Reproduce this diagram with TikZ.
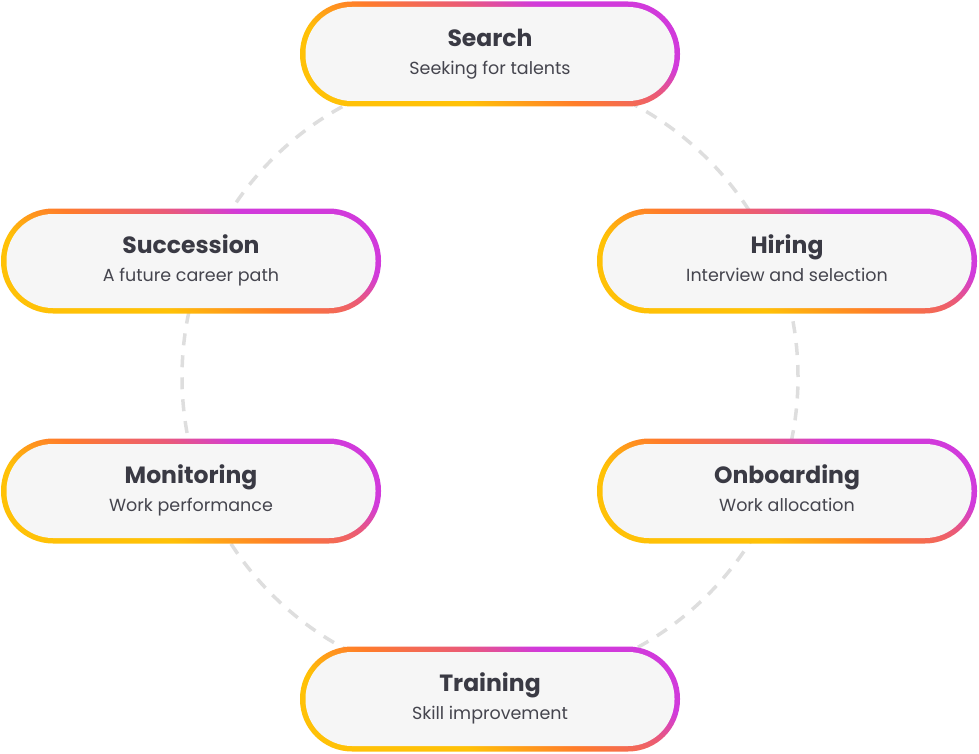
\documentclass[tikz,border=0pt]{standalone}
\usepackage{fontspec}
\setmainfont{Poppins}
\definecolor{gyel}{HTML}{FFC107}
\definecolor{gora}{HTML}{FF7C2A}
\definecolor{gpink}{HTML}{EA5A78}
\definecolor{gmag}{HTML}{D13ADB}
\definecolor{pillbg}{HTML}{F6F6F6}
\definecolor{txt}{HTML}{3A3A44}
\definecolor{subtxt}{HTML}{45454E}
\definecolor{ring}{HTML}{DEDEDE}
\pgfdeclarehorizontalshading{pillgrad}{100bp}{color(0bp)=(gyel); color(36bp)=(gyel); color(48bp)=(gora); color(59bp)=(gpink); color(67bp)=(gmag); color(100bp)=(gmag)}
\tikzset{
  pill/.style={rectangle, rounded corners=52pt, minimum width=380pt, minimum height=105pt,
    shading=pillgrad, shading angle=65, inner sep=0pt,
    path picture={\fill[pillbg, rounded corners=46.5pt]
      ([shift={(5.5pt,5.5pt)}]path picture bounding box.south west) rectangle
      ([shift={(-5.5pt,-5.5pt)}]path picture bounding box.north east);}},
  ttl/.style={anchor=base, text=txt, font=\fontsize{23.5}{26}\selectfont\bfseries, inner sep=0pt},
  sub/.style={anchor=base, text=subtxt, font=\fontsize{17.5}{20}\selectfont, inner sep=0pt},
  ringline/.style={draw=ring, line width=3.5pt, dash pattern=on 12pt off 10pt}
}
\newcommand\pillnode[5]{%
  \node[pill] (#1) at (#2,#3) {};
  \node[ttl] (#1-t) at (#2,#3-7.5) {#4};
  \node[sub] (#1-s) at (#2,#3+20.5) {#5};}
\begin{document}
\begin{tikzpicture}[x=1pt,y=-1pt]
\useasboundingbox (0,0) rectangle (979,754);
\coordinate (c) at (490,377);
\draw[ringline] (c) circle (308pt);
\pillnode{search}{490}{54}{Search}{Seeking for talents}
\pillnode{succession}{191}{261}{Succession}{A future career path}
\pillnode{hiring}{787}{261}{Hiring}{Interview and selection}
\pillnode{monitoring}{191}{491}{Monitoring}{Work performance}
\pillnode{onboarding}{787}{491}{Onboarding}{Work allocation}
\pillnode{training}{490}{699}{Training}{Skill improvement}
\end{tikzpicture}
\end{document}
